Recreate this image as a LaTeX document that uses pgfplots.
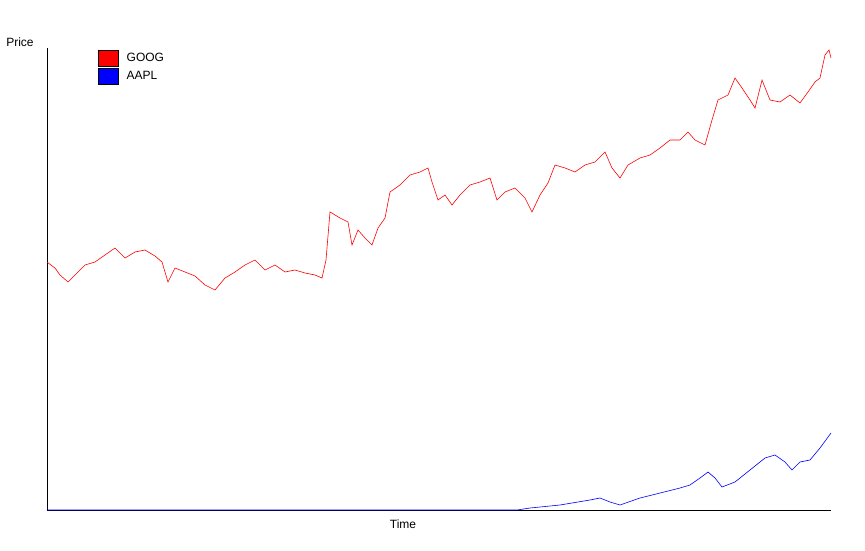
\documentclass[border=0pt]{standalone}
\usepackage{fontspec}
\setmainfont{Liberation Sans}
\usepackage{pgfplots}
\pgfplotsset{compat=1.18}
\begin{document}
\begin{tikzpicture}[x=1pt,y=1pt]
\draw[draw=none] (-47,-40) rectangle (818,510);
\begin{axis}[at={(0,0)},anchor=origin,scale only axis,width=784pt,height=462pt,
 xmin=0,xmax=784,ymin=0,ymax=462,axis lines=left,axis line style={-,black},
 xtick=\empty,ytick=\empty,font=\fontsize{12}{14}\selectfont,
 xlabel={Time},xlabel style={at={(axis description cs:0.5,0)},anchor=north,yshift=-6pt,xshift=-36pt},
 ylabel={Price},ylabel style={rotate=-90,at={(axis description cs:0,1)},anchor=south,xshift=-27pt,yshift=-2pt},
 legend style={at={(axis cs:48,462)},anchor=north west,draw=none,fill=none,row sep=1pt,font=\fontsize{12}{14}\selectfont,
   nodes={inner xsep=8pt}},
 legend cell align=left]
\addplot[red,line width=0.6pt,legend image code/.code={\draw[black,fill=red,line width=0.5pt] (0,-8pt) rectangle (20pt,8pt);}] coordinates {
(0,248)(8,242)(13,235)(21,228)(28,235)(38,245)(48,248)(58,255)(68,262)(78,252)(88,258)(98,260)(108,254)(115,248)(121,228)(128,242)(138,238)(148,234)(158,225)(168,220)(178,232)(188,238)(198,245)(208,250)(218,240)(228,245)(238,238)(248,240)(258,237)(268,235)(275,232)(279,250)(283,298)(293,292)(301,288)(305,265)(311,280)(318,272)(325,265)(331,282)(338,292)(343,318)(353,325)(363,335)(373,338)(381,342)(385,328)(391,310)(398,315)(405,305)(413,315)(423,325)(433,328)(443,332)(450,310)(458,318)(468,322)(478,312)(485,298)(493,315)(501,327)(508,345)(518,342)(528,338)(538,345)(548,348)(558,358)(565,342)(573,332)(581,345)(593,352)(603,355)(613,362)(623,370)(633,370)(641,378)(648,370)(658,365)(665,390)(671,410)(681,415)(688,432)(695,422)(703,410)(708,402)(715,430)(723,410)(733,408)(743,415)(753,407)(761,418)(768,428)(773,432)(778,455)(782,460)(784,452)};
\addlegendentry{GOOG}
\addplot[blue,line width=0.6pt,legend image code/.code={\draw[black,fill=blue,line width=0.5pt] (0,-8pt) rectangle (20pt,8pt);}] coordinates {
(0,0)(470,0)(483,2)(513,5)(543,10)(553,12)(563,8)(573,5)(593,12)(613,17)(633,22)(643,25)(653,32)(661,38)(668,32)(675,23)(688,28)(703,40)(718,52)(728,55)(738,48)(745,40)(753,48)(763,50)(773,62)(784,77)};
\addlegendentry{AAPL}
\end{axis}
\end{tikzpicture}
\end{document}
